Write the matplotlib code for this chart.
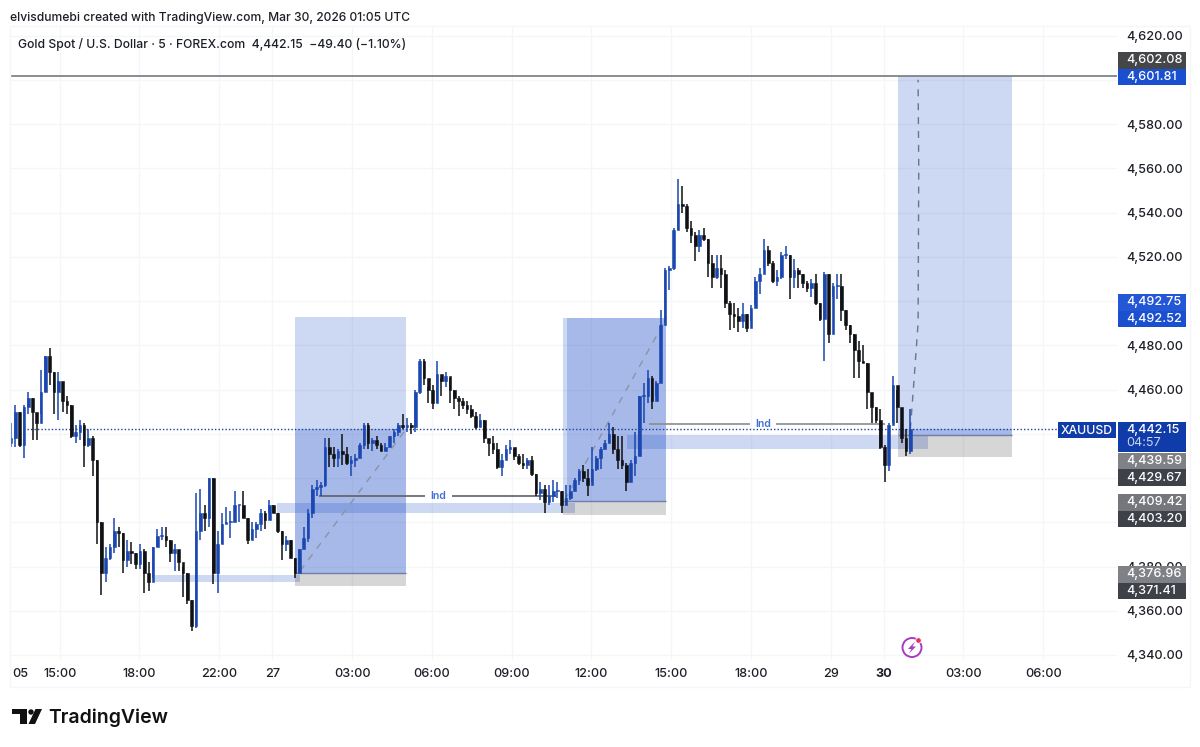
import matplotlib
matplotlib.use("Agg")
import matplotlib.pyplot as plt
import numpy as np
from matplotlib.patches import Rectangle, Polygon, Circle

plt.rcParams['font.family'] = ['Inter', 'DejaVu Sans']

# candle data (10 minute steps)
highs = [4445, 4453, 4450, 4453, 4459, 4456, 4449, 4469, 4475, 4478.6, 4468, 4468, 4459, 4457, 4453, 4444, 4446, 4445, 4442, 4439,
         4428, 4400, 4389, 4390, 4402, 4398, 4395, 4392, 4391, 4386, 4390, 4388, 4382, 4389, 4397, 4398, 4398, 4392, 4390, 4384,
         4380, 4377, 4365, 4413, 4415, 4408, 4420, 4420, 4396, 4404, 4407, 4405, 4414, 4408, 4414, 4402, 4400, 4400, 4406, 4405,
         4410, 4408, 4404, 4396, 4394, 4392, 4384,
         4388, 4398, 4406, 4417, 4419, 4418, 4438, 4438, 4434, 4433, 4440, 4434, 4430, 4431, 4436, 4445, 4445, 4438, 4439, 4436,
         4436, 4439, 4442, 4445, 4449, 4447, 4445, 4460, 4474, 4474, 4461, 4462, 4473, 4465, 4468, 4465, 4460, 4457, 4456, 4455,
         4453, 4450, 4449, 4446, 4437, 4439, 4436, 4431, 4435, 4437, 4433, 4431, 4431, 4429, 4430, 4422, 4418, 4417, 4417, 4419,
         4418, 4414, 4417, 4417, 4420, 4424, 4426, 4424, 4434, 4430, 4434, 4437, 4445, 4443, 4439, 4439, 4427, 4428, 4441, 4457,
         4463, 4469, 4466, 4464, 4496, 4515, 4516, 4533, 4555, 4552, 4544, 4536, 4531, 4532, 4533, 4528, 4521, 4521, 4521, 4514,
         4500, 4499, 4497, 4499, 4494, 4498, 4511, 4515, 4528, 4525, 4518, 4514, 4522, 4525, 4521, 4519, 4515, 4512, 4509, 4510,
         4512, 4499, 4513, 4512, 4508, 4512, 4512, 4496, 4489, 4485,
         4482, 4480, 4472, 4456, 4452, 4451, 4435, 4445, 4466, 4460, 4448, 4442, 4451]
lows = [4434, 4434, 4434, 4429, 4449, 4437, 4437, 4449, 4459, 4462, 4449, 4446, 4450, 4449, 4438, 4436, 4437, 4425, 4434, 4421,
        4390, 4367, 4373, 4383, 4386, 4389, 4377, 4380, 4381, 4379, 4379, 4368, 4369, 4375, 4389, 4392, 4389, 4382, 4378, 4378,
        4366, 4363, 4351, 4352, 4392, 4396, 4398, 4372, 4368, 4390, 4399, 4393, 4405, 4400, 4402, 4390, 4392, 4393, 4396, 4397,
        4404, 4404, 4395, 4383, 4387, 4384, 4375,
        4377, 4391, 4391, 4402, 4412, 4412, 4416, 4425, 4425, 4425, 4426, 4426, 4421, 4425, 4429, 4433, 4433, 4432, 4433, 4432,
        4432, 4434, 4436, 4439, 4442, 4441, 4440, 4441, 4458, 4462, 4454, 4451, 4454, 4457, 4461, 4454, 4451, 4448, 4451, 4449,
        4447, 4442, 4443, 4436, 4430, 4431, 4424, 4421, 4429, 4431, 4428, 4426, 4424, 4424, 4421, 4412, 4410, 4404, 4408, 4409,
        4411, 4404, 4408, 4410, 4414, 4417, 4418, 4412, 4418, 4423, 4424, 4433, 4436, 4431, 4424, 4424, 4414, 4421, 4421, 4430,
        4445, 4454, 4451, 4457, 4463, 4490, 4505, 4514, 4532, 4540, 4531, 4526, 4518, 4522, 4527, 4511, 4506, 4510, 4506, 4497,
        4487, 4488, 4486, 4488, 4486, 4491, 4498, 4503, 4515, 4516, 4508, 4507, 4510, 4519, 4501, 4506, 4506, 4506, 4504, 4502,
        4498, 4491, 4473, 4481, 4502, 4501, 4491, 4487, 4481, 4465,
        4465, 4472, 4451, 4445, 4445, 4433, 4418, 4423, 4445, 4445, 4436, 4430, 4431]
closes = [4438, 4450, 4435, 4452, 4456, 4450, 4445, 4459, 4475, 4468, 4459, 4464, 4455, 4453, 4439, 4441, 4444, 4435, 4438, 4428,
          4400, 4377, 4384, 4389, 4396, 4395, 4383, 4387, 4386, 4381, 4387, 4377, 4373, 4389, 4394, 4394, 4392, 4386, 4388, 4382,
          4377, 4365, 4353, 4396, 4404, 4402, 4420, 4377, 4390, 4399, 4400, 4400, 4408, 4408, 4402, 4392, 4397, 4399, 4404, 4401,
          4408, 4404, 4396, 4390, 4392, 4384, 4377,
          4388, 4393, 4404, 4415, 4416, 4417, 4434, 4431, 4429, 4432, 4431, 4427, 4428, 4429, 4435, 4444, 4436, 4437, 4435, 4432,
          4434, 4439, 4441, 4444, 4443, 4444, 4443, 4459, 4473, 4465, 4460, 4454, 4467, 4464, 4466, 4460, 4456, 4455, 4453, 4451,
          4448, 4443, 4446, 4438, 4436, 4433, 4425, 4428, 4433, 4434, 4430, 4427, 4426, 4428, 4422, 4413, 4415, 4409, 4412, 4414,
          4414, 4408, 4411, 4414, 4419, 4423, 4420, 4417, 4424, 4429, 4433, 4436, 4440, 4433, 4428, 4426, 4418, 4427, 4430, 4457,
          4457, 4465, 4455, 4463, 4489, 4514, 4515, 4532, 4544, 4543, 4533, 4530, 4525, 4530, 4528, 4517, 4511, 4515, 4512, 4499,
          4494, 4493, 4491, 4494, 4488, 4497, 4509, 4512, 4523, 4517, 4509, 4511, 4521, 4521, 4511, 4514, 4512, 4508, 4506, 4508,
          4499, 4492, 4512, 4485, 4507, 4507, 4496, 4489, 4485, 4478,
          4473, 4472, 4459, 4452, 4446, 4434, 4426, 4444, 4462, 4452, 4438, 4432, 4442]
first_open = 4436
last_bar = 406

# axis labels
price_ticks = [4340, 4360, 4380, 4400, 4420, 4440, 4460, 4480, 4500, 4520, 4540, 4560, 4580, 4600, 4620]
hidden_prices = [4400, 4420, 4440, 4500, 4600]  # sit fully behind the price tags
time_ticks = [4, 22, 58, 94, 118, 154, 190, 226, 262, 298, 334, 370, 394, 430, 466]
time_labels = ['05', '15:00', '18:00', '22:00', '27', '03:00', '06:00', '09:00', '12:00', '15:00', '18:00', '29', '30', '03:00', '06:00']

# drawing tools on the chart
last_price = 4442.15
target_line = 4601.81
long_boxes = [
    # left, right, target, entry, stop
    (128.2, 178.3, 4492.75, 4376.96, 4371.41),
    (249.2, 295.7, 4492.52, 4409.42, 4403.20),
    (400.4, 451.9, 4601.81, 4439.59, 4429.67),
]
fvg_bands = [
    (65, 130.5, 4373.0, 4376.2),
    (120, 254.6, 4404.2, 4408.7),
    (278, 414, 4433.1, 4439.4),
]
ind_lines = [(139, 246, 4411.9, 193), (288, 394.5, 4444.4, 339.5)]
path1_x, path1_y = [130.5, 178.3], [4378, 4442]
path2_x, path2_y = [250, 296], [4410, 4492.5]
path3_x, path3_y = [406, 407.5, 409.5, 409.8, 409.5], [4442, 4462, 4490, 4560, 4600]

GRID = '#f5f6f8'
BLUE_FILL = '#1f4fc8'
TEXT = '#1c1f27'

fig = plt.figure(figsize=(12, 7.47), dpi=100)
W, H = 1200, 747
left, right, top, bottom = 10, 1117, 26, 660
ax = fig.add_axes([left / W, 1 - bottom / H, (right - left) / W, (bottom - top) / H])
ax.set_xlim(-0.45, 499.3)
ax.set_ylim(4337.74, 4624.3)
for s in ax.spines.values():
    s.set_visible(False)

ax.yaxis.tick_right()
ax.set_yticks(price_ticks, ['' if p in hidden_prices else f'{p:,.2f}' for p in price_ticks])
ax.set_xticks(time_ticks, time_labels)
ax.tick_params(axis='y', length=0, pad=6.5, labelsize=9.1, labelcolor=TEXT)
ax.tick_params(axis='x', length=0, pad=5.5, labelsize=9.1, labelcolor=TEXT)
for lab in ax.get_yticklabels() + ax.get_xticklabels():
    lab.set_fontweight('medium')
for lab, txt in zip(ax.get_xticklabels(), time_labels):
    if txt == '30':
        lab.set_fontweight('bold')

# grid
ax.hlines(price_ticks, -0.45, 499.3, color=GRID, lw=1, zorder=0)
ax.vlines(time_ticks[1:], 4337.74, 4624.3, color=GRID, lw=1, zorder=0)

# blue zones
for l, r, lo, hi in fvg_bands:
    ax.add_patch(Rectangle((l, lo), r - l, hi - lo, fc=BLUE_FILL, alpha=0.22, lw=0, zorder=1))

for i, (l, r, tgt, entry, stop) in enumerate(long_boxes):
    w = r - l
    ax.add_patch(Rectangle((l, entry), w, tgt - entry, fc=BLUE_FILL, alpha=0.22, lw=0, zorder=1))
    ax.add_patch(Rectangle((l, stop), w, entry - stop, fc='black', alpha=0.16, lw=0, zorder=1))
    # filled part from entry to where price got to
    reach = tgt if i == 1 else last_price
    fill_l = l + 1.8 if i == 1 else l
    ax.add_patch(Rectangle((fill_l, entry), r - fill_l, reach - entry, fc=BLUE_FILL, alpha=0.22, lw=0, zorder=1))
    ax.hlines(entry, l, r, color='#6f7fa8', lw=1, zorder=1.5)

ax.plot(path1_x, path1_y, color='#8a93a8', lw=1, ls=(0, (5, 5)), zorder=1.6)
ax.plot(path2_x, path2_y, color='#8a93a8', lw=1, ls=(0, (5, 5)), zorder=1.6)
ax.plot(path3_x, path3_y, color='#6d7488', lw=1, ls=(0, (5, 5)), zorder=1.6)

# candles
bars = np.linspace(0, last_bar, len(closes))
opens = [first_open] + closes[:-1]
for x, o, h, l, c in zip(bars, opens, highs, lows, closes):
    col = '#1a47b0' if c >= o else '#101114'
    ax.vlines(x, l, h, color=col, lw=1.1, zorder=3)
    ax.add_patch(Rectangle((x - 0.6, min(o, c)), 1.2, max(abs(c - o), 0.4), fc=col, ec=col, lw=0.4, zorder=3))

# horizontal levels
ax.hlines(target_line, -0.45, 499.3, color='#77797f', lw=1.2, zorder=2)
ax.plot([7, 473], [last_price, last_price], color='#1a3f9e', lw=1, ls=(0, (1, 1.5)), zorder=2.6)

# Ind lines
for x0, x1, y, xt in ind_lines:
    gray = '#5f6166' if x0 < 200 else '#8b8c8f'
    ax.hlines(y, x0, xt - 6, color=gray, lw=1.2, zorder=2)
    ax.hlines(y, xt + 6, x1, color=gray, lw=1.2, zorder=2)
    ax.text(xt, y, 'Ind', color='#3f6fd8', fontsize=7.5, fontweight='semibold', ha='center', va='center', zorder=2)

# overlay in pixel coordinates for tags, header and logo
ov = fig.add_axes([0, 0, 1, 1], zorder=5)
ov.set_xlim(0, W)
ov.set_ylim(H, 0)
ov.axis('off')
ov.patch.set_alpha(0)

ov.hlines(687, left, 1190, color=GRID, lw=1)
ov.vlines(1190, top, 687, color=GRID, lw=1)
ov.hlines(top, left, 1190, color=GRID, lw=1)
ov.vlines(left, top, 687, color=GRID, lw=1)

tags = [
    ('4,602.08', 52, 69, '#45464a'),
    ('4,601.81', 69, 85, '#1a4fd0'),
    ('4,492.75', 294, 311, '#2457d6'),
    ('4,492.52', 311, 327, '#1a4fd0'),
    ('4,439.59', 453, 469, '#808186'),
    ('4,429.67', 469, 486, '#3f4149'),
    ('4,409.42', 494, 511, '#76777d'),
    ('4,403.20', 511, 527, '#3f4149'),
    ('4,376.96', 566, 583, '#808186'),
    ('4,371.41', 583, 599, '#3f4149'),
]
for txt, y0, y1, col in tags:
    ov.add_patch(Rectangle((1118, y0), 68, y1 - y0, fc=col, lw=0))
    ov.text(1126, (y0 + y1) / 2, txt, color='white', fontsize=9.1, fontweight='medium', ha='left', va='center')

ov.add_patch(Rectangle((1118, 422), 68, 30, fc='#0f3ca8', lw=0))
ov.text(1126, 430, '4,442.15', color='white', fontsize=9.1, fontweight='medium', ha='left', va='center')
ov.text(1126, 443.5, '04:57', color='#c8d4f2', fontsize=9.1, ha='left', va='center')
ov.add_patch(Rectangle((1058, 422), 58, 16, fc='#0f3ca8', lw=0))
ov.text(1087, 430.5, 'XAUUSD', color='white', fontsize=8.8, fontweight='medium', ha='center', va='center')

ov.text(10, 17.5, 'elvisdumebi created with TradingView.com, Mar 30, 2026 01:05 UTC',
        color=TEXT, fontsize=8.7, fontweight='medium', ha='left', va='center')
ov.text(18, 44.5, 'Gold Spot / U.S. Dollar \u00b7 5 \u00b7 FOREX.com  4,442.15  \u221249.40 (\u22121.10%)',
        color=TEXT, fontsize=8.75, fontweight='medium', ha='left', va='center')

# TradingView logo
ov.add_patch(Polygon([(12, 709), (27, 709), (27, 724), (19.5, 724), (19.5, 714), (12, 714)], fc='#111', lw=0))
ov.add_patch(Circle((31, 712), 2.7, fc='#111', lw=0))
ov.add_patch(Polygon([(35.5, 709), (42, 709), (35, 724), (28.5, 724)], fc='#111', lw=0))
ov.text(48, 717.5, 'TradingView', color='#111', fontsize=14, fontweight='semibold', ha='left', va='center')

# lightning badge
ov.add_patch(Circle((912, 647.5), 9.5, fc='white', ec='#a63cc0', lw=1.4))
ov.add_patch(Polygon([(915, 641.5), (908, 649), (911.5, 649), (909, 653.5), (916, 646.5), (912.5, 646.5)], fc='#a63cc0', lw=0))
ov.add_patch(Circle((918.5, 640.5), 2.8, fc='#e8315a', ec='white', lw=0.6))

fig.savefig('out.png', dpi=100)
